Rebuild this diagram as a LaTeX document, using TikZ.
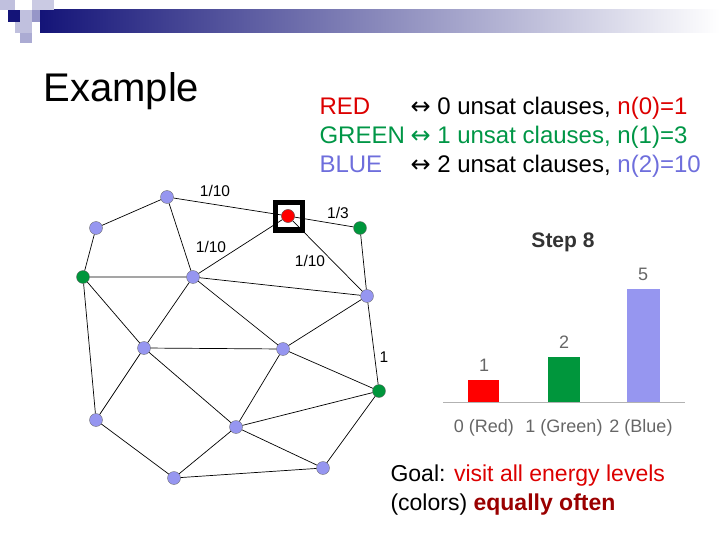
\documentclass[tikz,border=0pt]{standalone}
\usepackage{fontspec}
\setmainfont{Liberation Sans}
\newfontfamily\arr{DejaVu Sans}
\begin{document}
\begin{tikzpicture}[x=1pt,y=-1pt,
  v/.style={circle,draw=black!60,line width=0.3pt,fill=#1,inner sep=0pt,minimum size=13pt},
  e/.style={line width=0.7pt},
  lab/.style={font=\fontsize{15.5}{15.5}\selectfont},
  ax/.style={text=black!60,font=\fontsize{18}{18}\selectfont}]
\definecolor{vb}{RGB}{150,150,240}
\definecolor{vg}{RGB}{0,150,60}
\definecolor{tg}{RGB}{0,150,70}
\definecolor{tb}{RGB}{110,110,220}
\definecolor{tr}{RGB}{220,0,0}
\definecolor{navy}{RGB}{20,20,120}
\definecolor{lav}{RGB}{150,150,200}
\newcommand{\lw}[1]{\makebox[91pt][l]{#1}}
\useasboundingbox (0,0) rectangle (720,540);
% header
\shade[left color=navy,right color=white] (40,10) rectangle (720,33);
\fill[lav!60] (0,0) rectangle (15,10);
\fill[lav!50] (32,0) rectangle (54,10);
\fill[navy] (8,10) rectangle (20,22);
\fill[lav!60] (20,10) rectangle (32,22);
\fill[lav] (32,10) rectangle (40,22);
\fill[lav!60] (15,22) rectangle (32,33);
\fill[lav!80] (20,33) rectangle (32,43);
\node[anchor=west,font=\fontsize{40}{40}\selectfont] (ex) at (40,91) {Example};
\node[anchor=west,font=\fontsize{24}{29}\selectfont,align=left] (leg) at (316,137) {%
\lw{\textcolor{tr}{RED}}{\arr↔} 0 unsat clauses, \textcolor{tr}{n(0)=1}\\
\textcolor{tg}{\lw{GREEN}{\arr↔} 1 unsat clauses, n(1)=3}\\
\lw{\textcolor{tb}{BLUE}}{\arr↔} 2 unsat clauses, \textcolor{tb}{n(2)=10}};
% graph
\node[v=vb] (a) at (167,197) {};
\node[v=vb] (b) at (96,228) {};
\node[v=vg] (c) at (83,277) {};
\node[v=vb] (d) at (193,277) {};
\node[v=red] (r) at (288,216) {};
\node[v=vg] (g1) at (360,228) {};
\node[v=vb] (ee) at (367,296) {};
\node[v=vb] (f) at (144,348) {};
\node[v=vb] (h) at (283,349) {};
\node[v=vg] (g2) at (379,391) {};
\node[v=vb] (i) at (96,420) {};
\node[v=vb] (j) at (236,427) {};
\node[v=vb] (k) at (323,468) {};
\node[v=vb] (l) at (174,478) {};
\draw[e] (a)--(b) (b)--(c) (a)--(d) (a)--(r) (r)--(g1) (r)--(d) (r)--(ee) (g1)--(ee)
 (c)--(d) (d)--(ee) (c)--(f) (c)--(i) (d)--(f) (d)--(h) (ee)--(h) (ee)--(g2)
 (f)--(h) (f)--(i) (f)--(j) (h)--(j) (h)--(g2) (g2)--(j) (g2)--(k) (j)--(k)
 (j)--(l) (i)--(l) (l)--(k);
\node[draw=black,line width=5pt,minimum size=27pt,inner sep=0pt] (sq) at (288.5,216.5) {};
\node[v=red] at (288,216) {};
\node[lab] (l1) at (215,191) {1/10};
\node[lab] (l2) at (338,213) {1/3};
\node[lab] (l3) at (211,247) {1/10};
\node[lab] (l4) at (310,261) {1/10};
\node[lab] (l5) at (384,357) {1};
% bar chart
\node[font=\bfseries\fontsize{21}{21}\selectfont,text=black!80] (st) at (563,242) {Step 8};
\fill[red] (468,380) rectangle (499,402);
\fill[vg] (548,357) rectangle (580,402);
\fill[vb] (627,289) rectangle (660,402);
\draw[black!30] (443,402) -- (685,402);
\node[ax] (n1) at (484,365) {1};
\node[ax] (n2) at (564,342) {2};
\node[ax] (n5) at (643,274) {5};
\node[ax] (x0) at (484,428) {0 (Red)};
\node[ax] (x1) at (564,428) {1 (Green)};
\node[ax] (x2) at (641,428) {2 (Blue)};
\node[anchor=west,font=\fontsize{23}{29}\selectfont,align=left] (goal) at (387,490) {%
Goal: \textcolor{tr}{visit all energy levels}\\
(colors) \textcolor{tr!70!black}{\bfseries equally often}};
\end{tikzpicture}
\end{document}
